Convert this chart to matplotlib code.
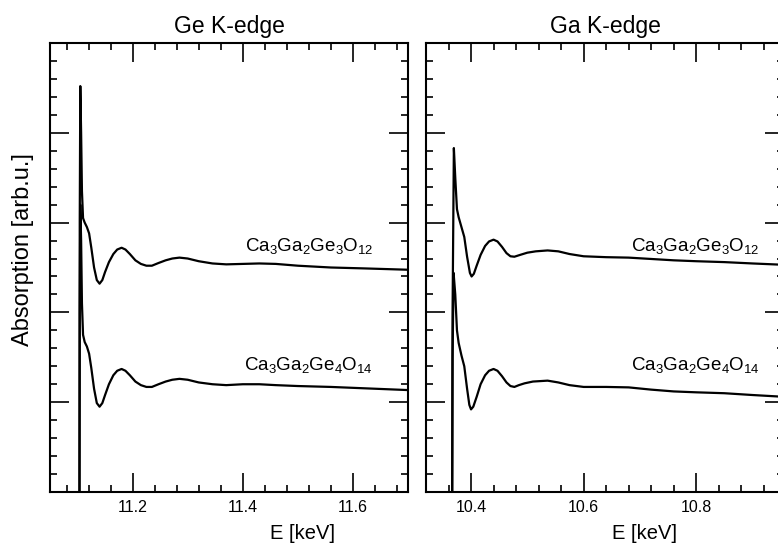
import numpy as np
import matplotlib
matplotlib.use("Agg")
import matplotlib.pyplot as plt
from matplotlib.ticker import MultipleLocator

plt.rcParams['font.family'] = ['Liberation Sans', 'DejaVu Sans']
plt.rcParams['mathtext.fontset'] = 'custom'
plt.rcParams['mathtext.rm'] = 'Liberation Sans'
plt.rcParams['mathtext.it'] = 'Liberation Sans:italic'
plt.rcParams['mathtext.bf'] = 'Liberation Sans:bold'
plt.rcParams['mathtext.default'] = 'regular'

# Ge K-edge spectra (energy in keV, absorption in arb. units)
ge_e = [11.1035, 11.1040, 11.1050, 11.1065, 11.108, 11.110, 11.113, 11.117,
        11.121, 11.125, 11.130, 11.135, 11.140, 11.145, 11.150, 11.157,
        11.165, 11.172, 11.180, 11.187, 11.195, 11.205, 11.215, 11.225,
        11.235, 11.247, 11.260, 11.272, 11.285, 11.300, 11.320, 11.345,
        11.370, 11.400, 11.430, 11.460, 11.500, 11.560, 11.620, 11.700]
ge_upper = [-0.1, 3.0, 4.52, 4.0, 3.35, 3.05, 3.0, 2.95,
            2.88, 2.72, 2.50, 2.36, 2.32, 2.36, 2.45, 2.56,
            2.65, 2.70, 2.72, 2.70, 2.65, 2.58, 2.54, 2.52,
            2.52, 2.55, 2.58, 2.60, 2.61, 2.60, 2.57, 2.545,
            2.535, 2.54, 2.545, 2.54, 2.52, 2.50, 2.49, 2.475]
ge_lower = [-0.1, 2.0, 3.2, 2.8, 2.1, 1.75, 1.67, 1.62,
            1.54, 1.38, 1.15, 0.99, 0.95, 0.99, 1.08, 1.20,
            1.30, 1.35, 1.37, 1.35, 1.30, 1.23, 1.19, 1.17,
            1.17, 1.20, 1.23, 1.25, 1.26, 1.25, 1.22, 1.20,
            1.19, 1.20, 1.20, 1.19, 1.18, 1.17, 1.155, 1.135]

# Ga K-edge spectra
ga_e_upper = [10.3665, 10.3672, 10.3695, 10.372, 10.375, 10.378, 10.383, 10.388,
              10.393, 10.398, 10.401, 10.405, 10.410, 10.417, 10.425, 10.432,
              10.440, 10.447, 10.455, 10.463, 10.470, 10.477, 10.487, 10.500,
              10.515, 10.536, 10.555, 10.575, 10.600, 10.640, 10.680, 10.720,
              10.760, 10.800, 10.850, 10.900, 10.956]
ga_upper = [-0.1, 2.0, 3.83, 3.5, 3.15, 3.06, 2.95, 2.84,
            2.62, 2.44, 2.40, 2.43, 2.52, 2.64, 2.74, 2.79,
            2.81, 2.79, 2.73, 2.66, 2.625, 2.62, 2.64, 2.665,
            2.68, 2.69, 2.68, 2.65, 2.625, 2.615, 2.61, 2.595,
            2.58, 2.57, 2.56, 2.545, 2.53]

ga_e_lower = [10.3665, 10.3672, 10.369, 10.372, 10.375, 10.378, 10.383, 10.388,
              10.393, 10.397, 10.400, 10.404, 10.410, 10.417, 10.425, 10.432,
              10.440, 10.447, 10.455, 10.463, 10.470, 10.477, 10.485, 10.495,
              10.510, 10.536, 10.555, 10.575, 10.600, 10.640, 10.680, 10.720,
              10.760, 10.800, 10.850, 10.900, 10.956]
ga_lower = [-0.1, 1.5, 2.44, 2.2, 1.80, 1.66, 1.52, 1.40,
            1.15, 0.97, 0.92, 0.95, 1.06, 1.20, 1.30, 1.35,
            1.37, 1.35, 1.29, 1.22, 1.18, 1.17, 1.19, 1.21,
            1.23, 1.24, 1.22, 1.19, 1.17, 1.17, 1.165, 1.14,
            1.12, 1.11, 1.10, 1.08, 1.06]

titles = ['Ge K-edge', 'Ga K-edge']
label_upper = r'Ca$_3$Ga$_2$Ge$_3$O$_{12}$'
label_lower = r'Ca$_3$Ga$_2$Ge$_4$O$_{14}$'

W, H = 778, 545
fig = plt.figure(figsize=(W / 100, H / 100), dpi=100)
ax1 = fig.add_axes([50 / W, 53 / H, 358 / W, 449 / H])
ax2 = fig.add_axes([426 / W, 53 / H, 358 / W, 449 / H])

panels = [
    (ax1, ge_e, ge_upper, ge_e, ge_lower, (11.05, 11.70),
     [11.2, 11.4, 11.6], 0.704, 11.52),
    (ax2, ga_e_upper, ga_upper, ga_e_lower, ga_lower, (10.32, 10.956),
     [10.4, 10.6, 10.8], 0.609, 10.798),
]

for i, (ax, eu, yu, el, yl, xlim, xt, xlab_x, lab_x) in enumerate(panels):
    ax.plot(eu, yu, color='black', lw=1.6)
    ax.plot(el, yl, color='black', lw=1.6)
    ax.set_xlim(*xlim)
    ax.set_ylim(0, 5)
    ax.set_xticks(xt)
    ax.set_xticklabels([f'{v:.1f}' for v in xt])
    ax.xaxis.set_minor_locator(MultipleLocator(0.04))
    ax.yaxis.set_major_locator(MultipleLocator(1))
    ax.yaxis.set_minor_locator(MultipleLocator(0.2))
    ax.set_yticklabels([])
    ax.tick_params(which='both', direction='in', top=True, right=True,
                   width=1.2, color='black')
    ax.tick_params(which='major', length=13.5, labelsize=11.5, pad=6)
    ax.tick_params(which='minor', length=5)
    for s in ax.spines.values():
        s.set_linewidth(1.5)
    ax.set_title(titles[i], fontsize=16.5, pad=7)
    ax.set_xlabel('E [keV]', fontsize=14.5)
    ax.xaxis.set_label_coords(xlab_x, -0.072)
    ax.text(lab_x, 2.63, label_upper, fontsize=13.5, ha='center', va='bottom')
    ax.text(lab_x, 1.30, label_lower, fontsize=13.5, ha='center', va='bottom')

ax1.set_ylabel('Absorption [arb.u.]', fontsize=17)
ax1.yaxis.set_label_coords(-0.045, 0.54)

fig.savefig('out.png', dpi=100)
